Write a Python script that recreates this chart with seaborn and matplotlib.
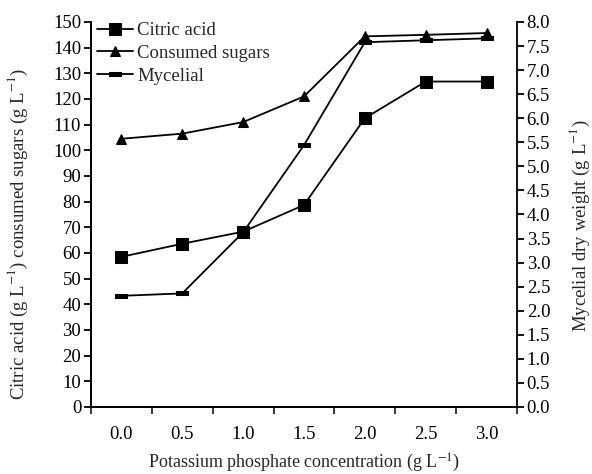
import matplotlib
matplotlib.use("Agg")
import matplotlib.pyplot as plt
import numpy as np
import pandas as pd
import seaborn as sns
from matplotlib.ticker import FixedLocator

# data
concentration = ["0.0", "0.5", "1.0", "1.5", "2.0", "2.5", "3.0"]
citric_acid = [58.5, 63.6, 68.3, 78.7, 112.5, 126.8, 126.8]      # g/L, left axis
consumed_sugars = [104.5, 106.5, 111.0, 121.0, 144.4, 145.0, 145.7]  # g/L, left axis
mycelial = [2.31, 2.36, 3.63, 5.44, 7.58, 7.62, 7.66]            # g/L, right axis

sns.set_theme(style="ticks")
plt.rcParams["font.family"] = ["Liberation Serif", "DejaVu Serif"]
plt.rcParams["mathtext.fontset"] = "stix"

left_df = pd.DataFrame({
    "conc": concentration * 2,
    "value": citric_acid + consumed_sugars,
    "series": ["Citric acid"] * 7 + ["Consumed sugars"] * 7,
})
right_df = pd.DataFrame({"conc": concentration, "value": mycelial})

fig = plt.figure(figsize=(5.92, 4.74), dpi=100)
ax = fig.add_axes([0.1537, 0.1414, 0.7196, 0.8122])
ax2 = ax.twinx()

dash = [(-1, -0.3), (1, -0.3), (1, 0.3), (-1, 0.3), (-1, -0.3)]

sns.lineplot(data=left_df, x="conc", y="value", style="series", markers=["s", "^"],
             dashes=False, color="black", linewidth=1.3, markersize=8.5,
             markeredgecolor="black", ax=ax, legend=False)
# smaller triangles like the reference
ax.get_lines()[1].set_markersize(7.5)
sns.lineplot(data=right_df, x="conc", y="value", marker=dash, color="black",
             linewidth=1.3, markersize=9, markeredgecolor="black", ax=ax2, legend=False)

ax.set_xlim(-0.5, 6.5)
ax.set_ylim(0, 150)
ax2.set_ylim(0, 8)
ax.set_yticks(np.arange(0, 151, 10))
ax2.set_yticks(np.arange(0, 8.01, 0.5))
ax2.set_yticklabels([f"{v:.1f}" for v in np.arange(0, 8.01, 0.5)])

fs = 13.5
ax.set_xticks(range(len(concentration)))
ax.set_xticklabels(concentration)
ax.tick_params(axis="x", which="major", length=0, pad=14)
ax.xaxis.set_minor_locator(FixedLocator(np.arange(-0.5, 6.6, 1)))
ax.tick_params(axis="x", which="minor", length=5, width=1.3, direction="out")
ax.tick_params(axis="y", length=5, width=1.3, direction="out", pad=2)
ax2.tick_params(axis="y", length=5, width=1.3, direction="out", pad=2)
for a in (ax, ax2):
    a.tick_params(labelsize=fs, colors="black")
    for s in a.spines.values():
        s.set_linewidth(1.3)
        s.set_color("black")
    a.spines["top"].set_visible(False)
    a.set_xlabel("")
ax.spines["right"].set_visible(False)

ax.set_xlabel(r"Potassium phosphate concentration (g L$^{-1}$)", fontsize=13, labelpad=6)
ax.set_ylabel(r"Citric acid (g L$^{-1}$) consumed sugars (g L$^{-1}$)", fontsize=13.5)
ax2.set_ylabel(r"Mycelial dry weight (g L$^{-1}$)", fontsize=13.5)
ax.yaxis.set_label_coords(-0.142, 0.45)
ax2.yaxis.set_label_coords(1.12, 0.47)

# legend handles matching the drawn lines
handles = ax.get_lines()[:2] + ax2.get_lines()[:1]
ax.legend(handles, ["Citric acid", "Consumed sugars", "Mycelial"], loc="upper left",
          bbox_to_anchor=(0.014, 1.0), frameon=False, fontsize=fs, handlelength=1.9,
          handletextpad=0.25, labelspacing=0.3, borderaxespad=0, borderpad=0)

fig.savefig("out.png", dpi=100)
